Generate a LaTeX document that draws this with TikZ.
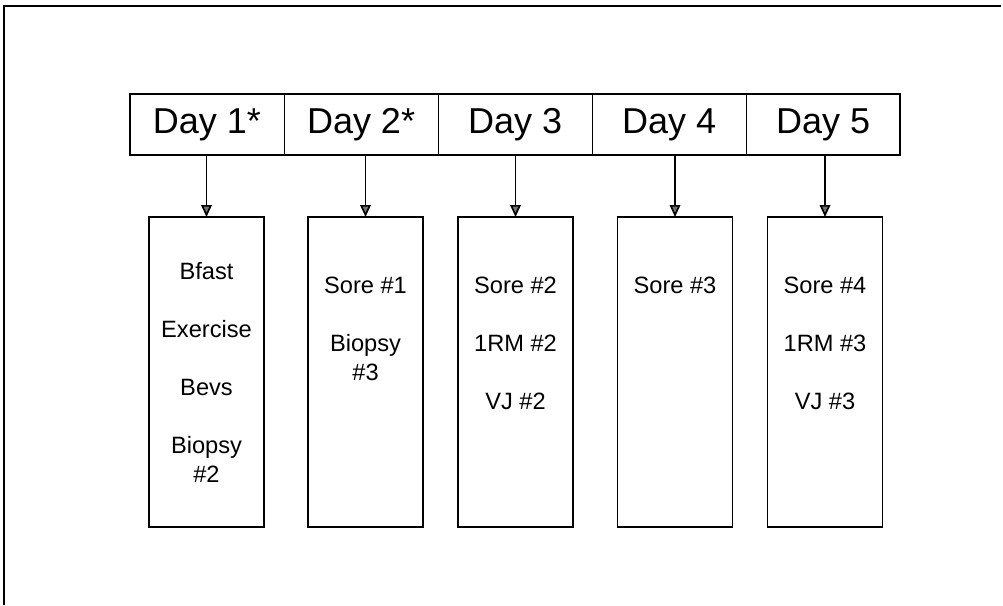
\documentclass[tikz,border=0pt]{standalone}
\usepackage{fontspec}
\setmainfont{Liberation Sans}
\usetikzlibrary{arrows.meta,positioning}

\begin{document}
\begin{tikzpicture}[x=0.025cm,y=-0.025cm,
  >={Triangle[length=8.5pt,width=7.5pt,fill=black!55]},
  daycell/.style={draw,line width=0.7pt,outer sep=0pt,inner sep=0pt,
    minimum width=3.85cm,minimum height=1.525cm,font=\fontsize{25.6}{30}\selectfont},
  tallbox/.style={draw,line width=0.9pt,outer sep=0pt,inner sep=0pt,anchor=north,
    minimum width=2.875cm,minimum height=7.75cm},
  item/.style={anchor=base,align=center,inner sep=0pt,font=\fontsize{16.8}{20.3}\selectfont},
  link/.style={->,line width=1.2pt}]
  \useasboundingbox (0,0) rectangle (1003,605);
  % frame, only top and left edge in view
  \coordinate (frtop) at (1001,6);
  \coordinate (frcorner) at (4,6);
  \coordinate (frbottom) at (4,605);
  \draw[line width=1.4pt] (frtop) -- (frcorner) -- (frbottom);
  % header row of days
  \node[daycell] (d1) at (207,124.5) {Day 1*};
  \node[daycell,right=0pt of d1] (d2) {Day 2*};
  \node[daycell,right=0pt of d2] (d3) {Day 3};
  \node[daycell,right=0pt of d3] (d4) {Day 4};
  \node[daycell,right=0pt of d4] (d5) {Day 5};
  \draw[line width=1.4pt] (d1.north west) rectangle (d5.south east);
  % boxes below
  \node[tallbox] (b1) at (206.5,217) {};
  \node[tallbox] (b2) at (365.5,217) {};
  \node[tallbox] (b3) at (515.5,217) {};
  \node[tallbox] (b4) at (675,217) {};
  \node[tallbox] (b5) at (825,217) {};
  \draw[link] (b1.north |- d1.south) -- (b1.north);
  \draw[link] (b2.north |- d2.south) -- (b2.north);
  \draw[link] (b3.north |- d3.south) -- (b3.north);
  \draw[link] (b4.north |- d4.south) -- (b4.north);
  \draw[link] (b5.north |- d5.south) -- (b5.north);
  % day 1 (base of a two-line node is its last line)
  \node[item] (b1a) at (206.5,279) {Bfast};
  \node[item] (b1b) at (206.5,337) {Exercise};
  \node[item] (b1c) at (206.5,395) {Bevs};
  \node[item] (b1d) at (206.5,482) {Biopsy\\\#2};
  % day 2
  \node[item] (b2a) at (365.5,293) {Sore \#1};
  \node[item] (b2b) at (365.5,380) {Biopsy\\\#3};
  % day 3
  \node[item] (b3a) at (515.5,293) {Sore \#2};
  \node[item] (b3b) at (515.5,351) {1RM \#2};
  \node[item] (b3c) at (515.5,409) {VJ \#2};
  % day 4
  \node[item] (b4a) at (675,293) {Sore \#3};
  % day 5
  \node[item] (b5a) at (825,293) {Sore \#4};
  \node[item] (b5b) at (825,351) {1RM \#3};
  \node[item] (b5c) at (825,409) {VJ \#3};
\end{tikzpicture}
\end{document}
